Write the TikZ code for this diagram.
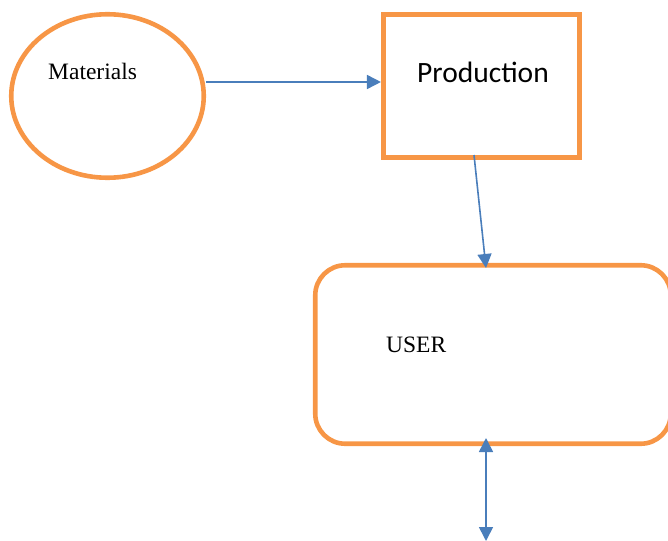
\documentclass[tikz,border=0pt]{standalone}
\usepackage{fontspec}
\setmainfont{Liberation Serif}
\newfontfamily\calibri{Carlito}
\usetikzlibrary{shapes.geometric,arrows.meta}
\definecolor{orng}{HTML}{F79646}
\definecolor{blu}{HTML}{4A7EBB}
\tikzset{
  shapebox/.style={draw=orng,line width=4.6pt,inner sep=0pt},
  conn/.style={draw=blu,line width=1.6pt,-{Triangle[length=14pt,width=14pt]}},
  dconn/.style={draw=blu,line width=1.6pt,{Triangle[length=14pt,width=14pt]}-{Triangle[length=14pt,width=14pt]}},
  lbl/.style={inner sep=0pt,anchor=base west}
}
\begin{document}
\begin{tikzpicture}[x=1pt,y=-1pt]
\useasboundingbox (0,0) rectangle (668,540);
\node[shapebox,ellipse,minimum width=192.5pt,minimum height=163.5pt] (mat) at (107.5,96) {};
\node[shapebox,rectangle,minimum width=196.5pt,minimum height=143.5pt] (prod) at (481.5,86) {};
\node[shapebox,rectangle,rounded corners=30pt,minimum width=355.5pt,minimum height=178.5pt] (user) at (493,354.5) {};
\node[lbl,font=\fontsize{23.5}{28}\selectfont] (tmat) at (48,80) {Materials};
\node[lbl,font=\calibri\fontsize{29.5}{34}\selectfont] (tprod) at (417,83) {Production};
\node[lbl,font=\fontsize{23.5}{28}\selectfont] (tuser) at (386,352) {USER};
\coordinate (a1) at (206,82);
\coordinate (a2) at (prod.west |- a1);
\coordinate (b1) at (474,155);
\coordinate (b2) at (486,268);
\coordinate (c1) at (486,438);
\coordinate (c2) at (486,541);
\draw[conn] (a1) -- (a2);
\draw[conn] (b1) -- (b2);
\draw[dconn] (c1) -- (c2);
\end{tikzpicture}
\end{document}
